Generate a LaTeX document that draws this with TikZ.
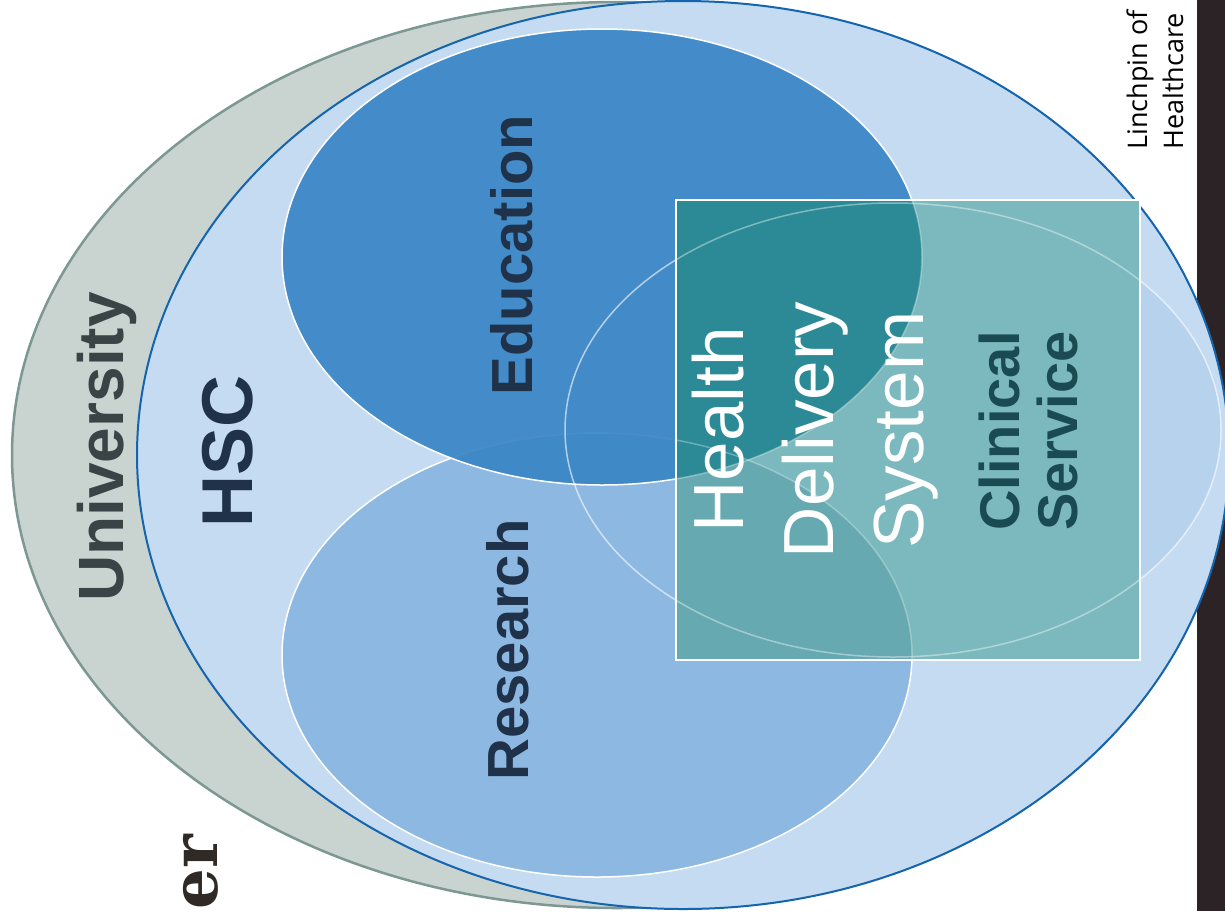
\documentclass[tikz,border=0pt]{standalone}
\usepackage{fontspec}
\setmainfont{Liberation Sans}
\newfontfamily\osans{Open Sans}
\newfontfamily\djserif{DejaVu Serif}
\definecolor{univfill}{HTML}{C9D4D1}
\definecolor{univline}{HTML}{7D9893}
\definecolor{hscfill}{HTML}{C4DBF1}
\definecolor{hscline}{HTML}{1464AE}
\definecolor{edufill}{HTML}{3B86C6}
\definecolor{resfill}{HTML}{8DB8E2}
\definecolor{clinfill}{HTML}{9FC3E6}
\definecolor{tealL}{HTML}{7BB9BE}
\definecolor{tealD}{HTML}{2B8A95}
\definecolor{tealM}{HTML}{66A9B0}
\definecolor{stripcol}{HTML}{2B2325}
\definecolor{univtext}{HTML}{3A4446}
\definecolor{navytext}{HTML}{1F3249}
\definecolor{clintext}{HTML}{1B4B52}
\definecolor{ertext}{HTML}{2F2A25}
\tikzset{
  lbl/.style={rotate=90, inner sep=0pt, anchor=base},
  bigbold/.style={font=\fontsize{#1}{#1}\selectfont\bfseries},
  whiteline/.style={draw=white, line width=1.5pt},
  univ ell/.style={x radius=605, y radius=453},
  hsc ell/.style={x radius=546, y radius=454},
  res ell/.style={x radius=315, y radius=222},
  edu ell/.style={x radius=320, y radius=228},
  clin ell/.style={x radius=328, y radius=227},
}
\begin{document}
\begin{tikzpicture}[x=1pt,y=-1pt]
\clip (0,0) rectangle (1225,911);
\fill[white] (0,0) rectangle (1225,911);
% dark strip at right
\fill[stripcol] (1197,0) rectangle (1225,911);
% centres
\coordinate (cU) at (617,455);
\coordinate (cH) at (683,455);
\coordinate (cR) at (597,655);
\coordinate (cE) at (602,257);
\coordinate (cC) at (893,430);
% University
\filldraw[fill=univfill, draw=univline, line width=2.5pt] (cU) ellipse [univ ell];
% HSC
\filldraw[fill=hscfill, draw=hscline, line width=2pt] (cH) ellipse [hsc ell];
% Clinical (beneath), Research, Education
\fill[clinfill, fill opacity=0.35] (cC) ellipse [clin ell];
\fill[resfill] (cR) ellipse [res ell];
\draw[whiteline] (cR) ellipse [res ell];
\fill[edufill, fill opacity=0.93] (cE) ellipse [edu ell];
\draw[whiteline] (cE) ellipse [edu ell];
\draw[whiteline, draw opacity=0.6] (cC) ellipse [clin ell];
% Health delivery system rectangle
\coordinate (rA) at (676,200);
\coordinate (rB) at (1140,660);
\fill[tealL] (rA) rectangle (rB);
\begin{scope}
  \clip (rA) rectangle (rB);
  \fill[tealM] (cR) ellipse [res ell];
  \fill[tealD] (cE) ellipse [edu ell];
  \draw[whiteline, draw opacity=0.3] (cR) ellipse [res ell];
  \draw[whiteline, draw opacity=0.35] (cE) ellipse [edu ell];
  \draw[whiteline, draw opacity=0.4] (cC) ellipse [clin ell];
\end{scope}
\draw[whiteline] (rA) rectangle (rB);
% texts
\node[lbl, bigbold=64, text=univtext] (univ) at (123,447) {University};
\node[lbl, bigbold=72, text=navytext] (hsc) at (252,451) {HSC};
\node[lbl, bigbold=58, text=navytext] (edu) at (532,255) {Education};
\node[lbl, bigbold=58, text=navytext] (res) at (528,650) {Research};
\node[lbl, font=\fontsize{71}{71}\selectfont, text=white] (hds1) at (743,430) {Health};
\node[lbl, font=\fontsize{71}{71}\selectfont, text=white] (hds2) at (833,430) {Delivery};
\node[lbl, font=\fontsize{71}{71}\selectfont, text=white] (hds3) at (923,430) {System};
\node[lbl, bigbold=56, text=clintext] (cs1) at (1019,431) {Clinical};
\node[lbl, bigbold=56, text=clintext] (cs2) at (1077,431) {Service};
\node[lbl, anchor=base west, font=\osans\fontsize{27}{27}\selectfont, text=black] (lh1) at (1147,150) {Linchpin of};
\node[lbl, anchor=base west, font=\osans\fontsize{27}{27}\selectfont, text=black] (lh2) at (1183,150) {Healthcare};
\node[lbl, anchor=base east, font=\djserif\fontsize{64}{64}\selectfont\bfseries, text=ertext] (er) at (217,835) {er};
\end{tikzpicture}
\end{document}
